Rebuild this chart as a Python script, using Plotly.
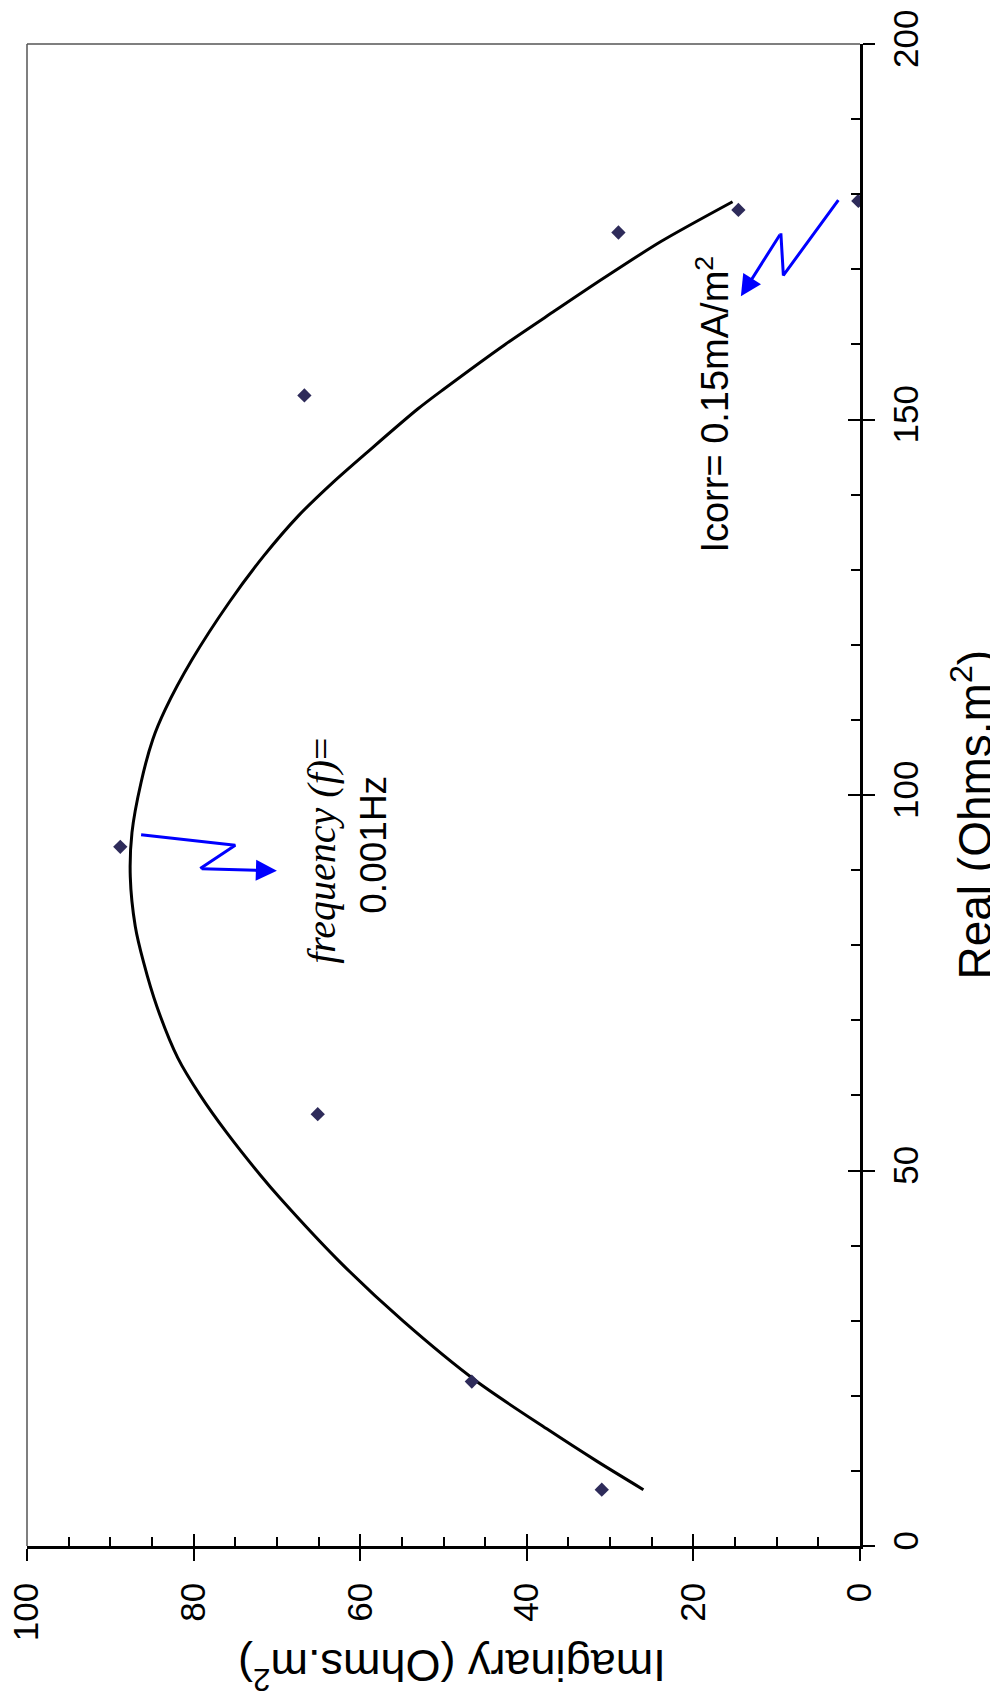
import plotly.graph_objects as go

# ---------------- data ----------------
# measured points (Imaginary, Real) in Ohms.m^2
point_imag = [0.2, 14.6, 29.0, 66.7, 88.8, 65.1, 46.6, 31.0]
point_real = [179.1, 177.9, 174.9, 153.2, 93.1, 57.5, 21.9, 7.5]

# fitted curve
curve_real = [7.5, 11.3, 15.6, 21.9, 30, 38, 46.3, 49.4, 55, 60, 65, 71.8, 77.7, 82.5,
              89.1, 95.0, 101.7, 107.4, 111.4, 118, 125.7, 131.8, 137.2, 141.7, 145.7,
              151.4, 154.1, 160, 164.5, 168.8, 173.7, 179.0]
curve_imag = [26.0, 31.6, 37.6, 46.0, 54.9, 62.6, 69.6, 72.0, 76.0, 79.2, 81.9, 84.4, 86.0, 87.0,
              87.6, 87.4, 86.3, 84.9, 83.4, 80.2, 75.7, 71.6, 67.4, 63.2, 59.1,
              53.1, 49.9, 42.6, 36.6, 30.8, 23.9, 15.3]

# lightning-style pointer arrows (Imaginary, Real)
freq_arrow_imag = [86.3, 75.0, 79.2, 70.0]
freq_arrow_real = [94.7, 93.3, 90.2, 89.9]
icorr_arrow_imag = [2.6, 9.2, 9.5, 14.3]
icorr_arrow_real = [179.2, 169.2, 174.8, 166.4]

imag_ticks = [0, 20, 40, 60, 80, 100]
real_ticks = [0, 50, 100, 150, 200]

FONT = "Liberation Sans"
BLUE = "#0000FF"

fig = go.Figure()

fig.add_trace(go.Scatter(x=curve_imag, y=curve_real, mode="lines",
                         line=dict(color="black", width=3, shape="spline", smoothing=0.8),
                         showlegend=False, hoverinfo="skip"))
fig.add_trace(go.Scatter(x=point_imag, y=point_real, mode="markers",
                         marker=dict(symbol="diamond", size=11, color="#2E2B5A"),
                         showlegend=False))

for xs, ys in [(freq_arrow_imag, freq_arrow_real), (icorr_arrow_imag, icorr_arrow_real)]:
    fig.add_trace(go.Scatter(x=xs[:3], y=ys[:3], mode="lines",
                             line=dict(color=BLUE, width=3),
                             showlegend=False, hoverinfo="skip"))
    fig.add_annotation(x=xs[3], y=ys[3], ax=xs[2], ay=ys[2], xref="x", yref="y",
                       axref="x", ayref="y", text="", showarrow=True,
                       arrowhead=2, arrowsize=1.4, arrowwidth=3, arrowcolor=BLUE)

# invisible trace to activate overlay axes
fig.add_trace(go.Scatter(x=[50], y=[100], xaxis="x2", yaxis="y2", mode="markers",
                         marker=dict(opacity=0), showlegend=False, hoverinfo="skip"))

tickfont = dict(family=FONT, size=35, color="black")

fig.update_layout(
    width=998, height=1695,
    margin=dict(l=19, r=146, t=36, b=157, autoexpand=False),
    paper_bgcolor="white", plot_bgcolor="white",
    xaxis=dict(range=[100, 0], tickvals=imag_ticks, tickangle=-90, tickfont=tickfont,
               showgrid=False, zeroline=False, showline=True, linecolor="black", linewidth=2.5,
               ticks="outside", ticklen=12, tickwidth=1.5, tickcolor="black",
               ticklabelstandoff=8, ticklabeloverflow="allow", automargin=False),
    xaxis2=dict(range=[100, 0], overlaying="x", side="bottom", anchor="y",
                tickvals=imag_ticks, showticklabels=False, showgrid=False, zeroline=False,
                ticks="inside", ticklen=12, tickwidth=1.5, tickcolor="black",
                minor=dict(ticks="inside", ticklen=9, tickwidth=1.5, tickcolor="black",
                           dtick=5, tick0=0)),
    yaxis=dict(range=[0, 200], tickvals=real_ticks, side="right", tickangle=-90,
               tickfont=tickfont, showgrid=False, zeroline=False, showline=True,
               linecolor="black", linewidth=2.5, ticks="outside", ticklen=12,
               tickwidth=1.5, tickcolor="black", ticklabelstandoff=1,
               ticklabeloverflow="allow", automargin=False),
    yaxis2=dict(range=[0, 200], overlaying="y", side="right", anchor="x",
                tickvals=real_ticks, showticklabels=False, showgrid=False, zeroline=False,
                ticks="inside", ticklen=12, tickwidth=1.5, tickcolor="black",
                minor=dict(ticks="inside", ticklen=9, tickwidth=1.5, tickcolor="black",
                           dtick=10, tick0=0)),
)

# frame lines on top and left
fig.add_shape(type="line", xref="paper", yref="paper", x0=0, x1=1, y0=1, y1=1,
              line=dict(color="#555555", width=1.5))
fig.add_shape(type="line", xref="paper", yref="paper", x0=0, x1=0, y0=0, y1=1,
              line=dict(color="#555555", width=1.5))

# axis titles
fig.add_annotation(xref="paper", yref="paper", x=1.1705, y=0.487,
                   xanchor="right", yanchor="middle",
                   text="Real (Ohms.m<sup>2</sup>)", textangle=-90, showarrow=False,
                   font=dict(family=FONT, size=46, color="black"))
fig.add_annotation(xref="paper", yref="paper", x=0.510, y=-0.082,
                   xanchor="center", yanchor="middle",
                   text="Imaginary (Ohms.m<sup>2</sup>)", textangle=180, showarrow=False,
                   font=dict(family=FONT, size=45, color="black"))

# text annotations
fig.add_annotation(xref="paper", yref="paper", x=0.354, y=0.4634,
                   xanchor="center", yanchor="middle",
                   text="<i>frequency (f)</i>=", textangle=-90, showarrow=False,
                   font=dict(family="Liberation Serif", size=40, color="black"))
fig.add_annotation(xref="paper", yref="paper", x=0.415, y=0.4667,
                   xanchor="center", yanchor="middle",
                   text="0.001Hz", textangle=-90, showarrow=False,
                   font=dict(family=FONT, size=37, color="black"))
fig.add_annotation(xref="paper", yref="paper", x=0.823, y=0.7603,
                   xanchor="center", yanchor="middle",
                   text="Icorr= 0.15mA/m<sup>2</sup>", textangle=-90, showarrow=False,
                   font=dict(family=FONT, size=38, color="black"))

fig.write_html("out.html")
